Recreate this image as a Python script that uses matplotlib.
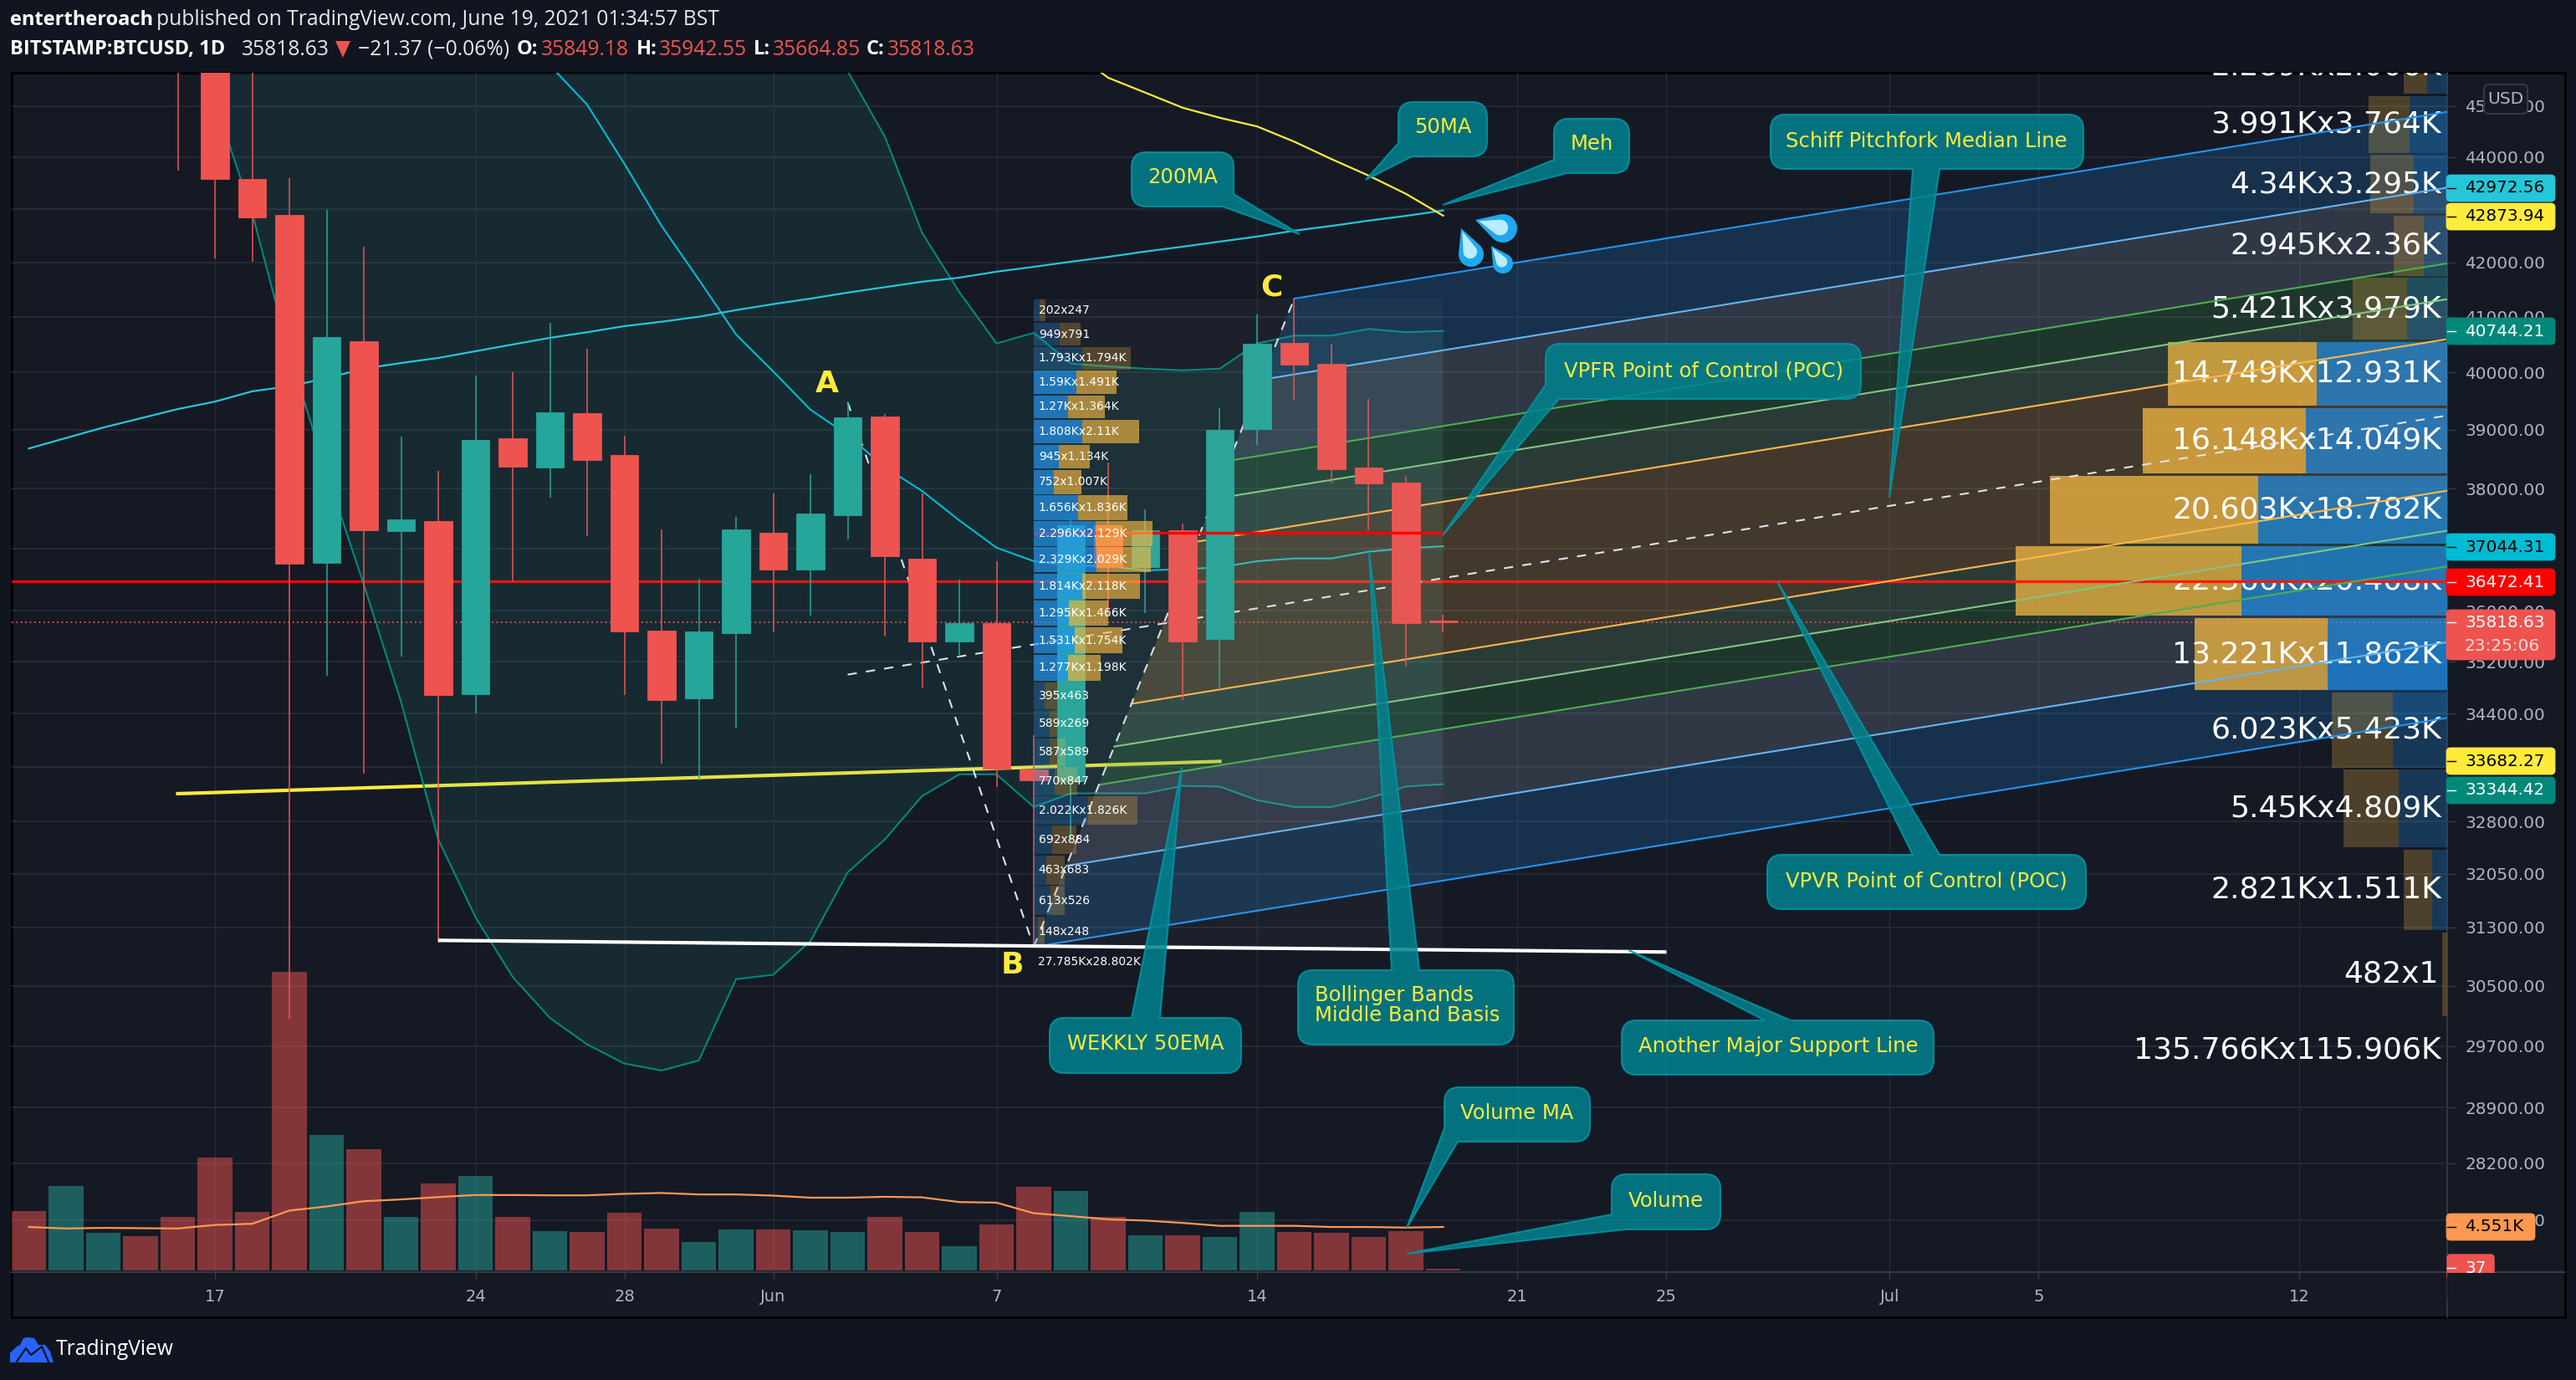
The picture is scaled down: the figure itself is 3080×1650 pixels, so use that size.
import numpy as np
import matplotlib
matplotlib.use("Agg")
import matplotlib.pyplot as plt
from matplotlib.patches import Rectangle, PathPatch, FancyBboxPatch, Polygon
from matplotlib.path import Path
from matplotlib.ticker import FixedLocator, FixedFormatter, NullLocator

# -------------------------------------------------------
# DATA (day numbers count from May 17 2021 = 0)
# -------------------------------------------------------
candle_days = list(range(-1, 34))
opens = [49200, 46400, 43575, 42887, 36775, 40558, 37290, 37460, 34700, 38850, 38350, 39290,
         38565, 35690, 34630, 35650, 37265, 36670, 37560, 39230, 36845, 35510, 35800, 33560,
         33390, 37395, 36700, 37310, 35550, 39020, 40525, 40160, 38350, 38100, 35849.18]
highs = [49800, 46650, 45800, 43588, 42983, 42290, 38880, 38295, 39947, 40007, 40890, 40425,
         38900, 37320, 36510, 37530, 37920, 38240, 39480, 39270, 37920, 36500, 36800, 34070,
         37500, 38440, 37660, 37420, 39380, 41040, 41330, 40500, 39540, 38200, 35942.55]
lows = [43736, 42075, 42010, 30056, 34985, 33495, 35280, 31085, 34400, 36480, 37850, 37210,
        34680, 33650, 33400, 34170, 35670, 35920, 37150, 35590, 34800, 35280, 33300, 31030,
        32520, 35930, 35970, 34610, 34770, 38740, 39510, 38090, 37310, 35130, 35664.85]
closes = [46400, 43575, 42840, 36757, 40630, 37307, 37488, 34680, 38825, 38370, 39300, 38480,
          35670, 34610, 35670, 37320, 36670, 37580, 39215, 36875, 35510, 35800, 33570, 33400,
          37395, 36700, 37310, 35510, 39000, 40510, 40140, 38330, 38090, 35810, 35818.63]

vol_days = list(range(-5, 34))
volumes = [6232, 8842, 3960, 3592, 5618, 11820, 6140, 31250, 14183, 12710, 5618, 9118, 9916,
           5618, 4114, 4052, 6048, 4390, 2978, 4298, 4298, 4206, 4052, 5618, 4052, 2548, 4820,
           8780, 8320, 5618, 3684, 3684, 3530, 6140, 4052, 3960, 3530, 4114, 37]
vol_up = [0, 1, 1, 0, 0, 0, 0, 0, 1, 0, 1, 0, 1, 0, 1, 0, 0, 0, 1, 1, 0, 1, 1, 0, 0, 1, 0,
          0, 1, 0, 1, 0, 1, 1, 0, 0, 0, 0, 0]
vol_ma = [4544, 4390, 4452, 4421, 4390, 4758, 4881, 6263, 6693, 7245, 7429, 7675, 7890, 7890,
          7859, 7859, 8013, 8105, 7951, 7951, 7829, 7614, 7614, 7706, 7644, 7153, 7092, 5986,
          5680, 5342, 5219, 4973, 4666, 4666, 4666, 4544, 4544, 4482, 4551]

bb_days = list(range(-1, 34))
bb_upper = [64000, 64900, 65680, 66470, 66740, 66580, 66220, 66260, 65020, 63540, 61570, 60340,
            58270, 55980, 53850, 50770, 49390, 47590, 45700, 44400, 42550, 41450, 40520, 40710,
            40160, 40110, 40070, 40040, 40070, 40520, 40660, 40660, 40780, 40720, 40744.21]
bb_basis = [55900, 55000, 54300, 53400, 52500, 51500, 50400, 49400, 48230, 47080, 45820, 45030,
            43870, 42680, 41680, 40680, 40020, 39350, 38910, 38360, 37960, 37470, 37020, 36800,
            36730, 36720, 36650, 36670, 36700, 36800, 36845, 36845, 36955, 37010, 37044.31]
bb_lower = [47870, 45100, 42920, 40330, 38260, 36420, 34580, 32540, 31440, 30620, 30070, 29720,
            29470, 29380, 29510, 30590, 30650, 31110, 32070, 32540, 33170, 33490, 33490, 33010,
            33210, 33210, 33210, 33320, 33310, 33110, 33010, 33010, 33140, 33310, 33344.42]

ma200_days = list(range(-5, 34))
ma200 = [38680, 38860, 39040, 39200, 39360, 39490, 39670, 39760, 39900, 40070, 40170, 40260,
         40380, 40500, 40620, 40720, 40830, 40910, 41000, 41120, 41230, 41330, 41440, 41540,
         41640, 41715, 41825, 41915, 42010, 42100, 42200, 42290, 42385, 42480, 42590, 42680,
         42780, 42870, 42972.56]
ma50_days = list(range(23, 34))
ma50 = [46130, 45570, 45270, 44970, 44770, 44600, 44300, 43960, 43640, 43290, 42873.94]

weekly_days = [-1, 27]
weekly_ema = [33205, 33682.27]
support_days = [6, 39]
support = [31120, 30960]
poc_vpvr = 36472.41
poc_vpfr = 37270
last_price = 35818.63

# pitchfork anchors
fork_a = (17, 39480)
fork_b = (22, 31030)
fork_c = (29, 41330)
median_start = (17, 35000)
median_end = (60, 39250)
band_levels = [0, 0.125, 0.25, 0.309, 0.375, 0.5, 0.625, 0.691, 0.75, 0.875, 1]

# fixed range profile, top row first
vpfr_labels = ["202x247", "949x791", "1.793Kx1.794K", "1.59Kx1.491K", "1.27Kx1.364K", "1.808Kx2.11K",
               "945x1.134K", "752x1.007K", "1.656Kx1.836K", "2.296Kx2.129K", "2.329Kx2.029K",
               "1.814Kx2.118K", "1.295Kx1.466K", "1.531Kx1.754K", "1.277Kx1.198K", "395x463",
               "589x269", "587x589", "770x847", "2.022Kx1.826K", "692x884", "463x683", "613x526",
               "148x248"]
vpfr_up = [0.202, 0.949, 1.793, 1.59, 1.27, 1.808, 0.945, 0.752, 1.656, 2.296, 2.329, 1.814,
           1.295, 1.531, 1.277, 0.395, 0.589, 0.587, 0.77, 2.022, 0.692, 0.463, 0.613, 0.148]
vpfr_down = [0.247, 0.791, 1.794, 1.491, 1.364, 2.11, 1.134, 1.007, 1.836, 2.129, 2.029, 2.118,
             1.466, 1.754, 1.198, 0.463, 0.269, 0.589, 0.847, 1.826, 0.884, 0.683, 0.526, 0.248]
vpfr_bright = [0, 0, 0, 1, 1, 1, 1, 1, 1, 1, 1, 1, 1, 1, 1, 0, 0, 0, 0, 0, 0, 0, 0, 0]
vpfr_total = "27.785Kx28.802K"

# visible range profile, top row first
vpvr_edges = [46390, 45225, 44060, 42895, 41730, 40565, 39400, 38235, 37070, 35905, 34740,
              33575, 32410, 31245, 30080]
vpvr_labels = ["2.289Kx2.006K", "3.991Kx3.764K", "4.34Kx3.295K", "2.945Kx2.36K", "5.421Kx3.979K",
               "14.749Kx12.931K", "16.148Kx14.049K", "20.603Kx18.782K", "22.366Kx20.408K",
               "13.221Kx11.862K", "6.023Kx5.423K", "5.45Kx4.809K", "2.821Kx1.511K", "482x1"]
vpvr_first = [2.289, 3.991, 4.34, 2.945, 5.421, 14.749, 16.148, 20.603, 22.366, 13.221, 6.023,
              5.45, 2.821, 0.482]
vpvr_second = [2.006, 3.764, 3.295, 2.36, 3.979, 12.931, 14.049, 18.782, 20.408, 11.862, 5.423,
               4.809, 1.511, 0.001]
vpvr_bright = [0, 0, 0, 0, 0, 1, 1, 1, 1, 1, 0, 0, 0, 0]
vpvr_total = "135.766Kx115.906K"

price_ticks = [46000, 45000, 44000, 43000, 42000, 41000, 40000, 39000, 38000, 37000, 36000, 35200,
               34400, 33600, 32800, 32050, 31300, 30500, 29700, 28900, 28200, 27500]
time_ticks = [0, 7, 11, 15, 21, 28, 35, 39, 45, 49, 56]
time_labels = ["17", "24", "28", "Jun", "7", "14", "21", "25", "Jul", "5", "12"]

# -------------------------------------------------------
# COLOURS
# -------------------------------------------------------
BG = "#11151f"
PANE = "#151924"
GRID = "#272b36"
AXIS_TXT = "#b2b5be"
UP = "#26a69a"
DOWN = "#ef5350"
YELLOW = "#ffeb3b"
BOX_FACE = "#00838f"
BOX_EDGE = "#0097a7"

plt.rcParams["font.family"] = ["DejaVu Sans"]

fig = plt.figure(figsize=(30.8, 16.5), dpi=100, facecolor=BG)

W, H = 3080.0, 1650.0
PANE_L, PANE_R, PANE_T, PANE_B = 14, 2926, 87, 1521
rect = [PANE_L / W, 1 - PANE_B / H, (PANE_R - PANE_L) / W, (PANE_B - PANE_T) / H]
XLIM = (-5.461, 59.978)
YLIM = (26874, 45670.5)


def px_axes(zorder):
    a = fig.add_axes([0, 0, 1, 1], zorder=zorder)
    a.set_xlim(0, W)
    a.set_ylim(H, 0)
    a.axis("off")
    return a


# background pane and separators
ax_bg = px_axes(0)
ax_bg.add_patch(Rectangle((PANE_L, PANE_T), 3067 - PANE_L, 1575 - PANE_T, fc=PANE, ec="#000000", lw=2))
ax_bg.plot([PANE_R, PANE_R], [PANE_T, 1575], color="#363a45", lw=1.2)
ax_bg.plot([PANE_L, 3066], [PANE_B, PANE_B], color="#363a45", lw=1.6)

# ticks and grid
ax_grid = fig.add_axes(rect, zorder=1)
ax_grid.patch.set_alpha(0)
ax_grid.set_yscale("log")
ax_grid.set_xlim(*XLIM)
ax_grid.set_ylim(*YLIM)
ax_grid.yaxis.tick_right()
ax_grid.yaxis.set_major_locator(FixedLocator(price_ticks))
ax_grid.yaxis.set_major_formatter(FixedFormatter([f"{v:.2f}" for v in price_ticks]))
ax_grid.yaxis.set_minor_locator(NullLocator())
ax_grid.set_xticks(time_ticks)
ax_grid.set_xticklabels(time_labels)
ax_grid.tick_params(axis="y", colors="#363a45", labelcolor=AXIS_TXT, labelsize=14.4, length=7.5, pad=8, width=1)
ax_grid.tick_params(axis="x", colors="#363a45", labelcolor=AXIS_TXT, labelsize=14, length=6.5, pad=8, width=1)
ax_grid.grid(axis="y", color=GRID, lw=1.3)
ax_grid.grid(axis="x", color=GRID, lw=1.0)
for s in ax_grid.spines.values():
    s.set_visible(False)

# volume layer
ax_vol = fig.add_axes(rect, zorder=2)
ax_vol.axis("off")
ax_vol.set_xlim(*XLIM)
ax_vol.set_ylim(-175, 125300)
vol_col = [UP if u else DOWN for u in vol_up]
ax_vol.bar(vol_days, np.maximum(volumes, 170), width=0.94, color=vol_col, alpha=0.5)
ax_vol.plot(vol_days, vol_ma, color="#ff9850", lw=1.6)

# price layer
ax = fig.add_axes(rect, zorder=3)
ax.axis("off")
ax.set_yscale("log")
ax.set_xlim(*XLIM)
ax.set_ylim(*YLIM)

# -------------------------------------------------------
# POC, MOVING AVERAGES, BOLLINGER BANDS
# -------------------------------------------------------
ax.plot([XLIM[0], 33], [poc_vpvr, poc_vpvr], color="#ff0000", lw=2.4, zorder=1)
ax.plot([33, XLIM[1]], [poc_vpvr, poc_vpvr], color="#ff1a10", lw=2.4, zorder=1.94)
ax.plot(weekly_days, weekly_ema, color=YELLOW, lw=3.0, zorder=1.2)

ax.fill_between(bb_days, bb_lower, bb_upper, color=UP, alpha=0.12, lw=0, zorder=1.5)
ax.plot(bb_days, bb_upper, color="#00897b", lw=1.5, zorder=1.6)
ax.plot(bb_days, bb_lower, color="#00897b", lw=1.5, zorder=1.6)
ax.plot(bb_days, bb_basis, color="#00bcd4", lw=1.5, zorder=1.6)
ax.plot(ma200_days, ma200, color="#26c6da", lw=1.6, zorder=1.8)
ax.plot(ma50_days, ma50, color=YELLOW, lw=1.6, zorder=1.8)

# -------------------------------------------------------
# CANDLES
# -------------------------------------------------------
cols = [UP if c >= o else DOWN for o, c in zip(opens, closes)]
ax.vlines(candle_days, lows, highs, colors=cols, lw=1.1, zorder=2)
body_low = np.minimum(opens, closes)
body_high = np.maximum(opens, closes)
ax.bar(candle_days, body_high - body_low, bottom=body_low, width=0.76, color=cols,
       edgecolor=cols, lw=0.6, zorder=2.1)

# -------------------------------------------------------
# VOLUME PROFILES
# -------------------------------------------------------
VP_BLUE = "#2196f3"
VP_YELLOW = "#f5b942"
vpfr_edges = np.linspace(fork_c[1], fork_b[1], len(vpfr_labels) + 1)
ax.add_patch(Rectangle((fork_b[0], fork_b[1]), fork_c[0] + 4 - fork_b[0], fork_c[1] - fork_b[1],
                       fc="#9598a1", alpha=0.06, lw=0, zorder=2.5))
day_per_k_left = 0.7236
for i, lab in enumerate(vpfr_labels):
    top, bot = vpfr_edges[i] * 0.9997, vpfr_edges[i + 1] * 1.0003
    wu, wd = vpfr_up[i] * day_per_k_left, vpfr_down[i] * day_per_k_left
    ax.barh(bot, wu, height=top - bot, left=fork_b[0], align="edge", color=VP_BLUE,
            alpha=0.68 if vpfr_bright[i] else 0.25, lw=0, zorder=3)
    ax.barh(bot, wd, height=top - bot, left=fork_b[0] + wu, align="edge", color=VP_YELLOW,
            alpha=0.65 if vpfr_bright[i] else 0.25, lw=0, zorder=3)
    ax.text(fork_b[0] + 0.13, np.sqrt(top * bot), lab, color="white", fontsize=10, va="center", ha="left", zorder=3.6)

day_per_k_right = 0.271
vp_texts = []
for i, lab in enumerate(vpvr_labels):
    top, bot = vpvr_edges[i] * 0.9995, vpvr_edges[i + 1] * 1.0005
    wy, wb = vpvr_first[i] * day_per_k_right, vpvr_second[i] * day_per_k_right
    ax.barh(bot, wb, height=top - bot, left=XLIM[1] - wb, align="edge", color=VP_BLUE,
            alpha=0.65 if vpvr_bright[i] else 0.25, lw=0, zorder=1.92)
    ax.barh(bot, wy, height=top - bot, left=XLIM[1] - wb - wy, align="edge", color=VP_YELLOW,
            alpha=0.75 if vpvr_bright[i] else 0.25, lw=0, zorder=1.92)
    right = XLIM[1] - (0.22 if lab == "482x1" else 0.157)
    t = ax.text(right, np.sqrt(top * bot), lab, color="white", fontsize=26, va="center", ha="right",
                zorder=1.93, clip_on=True)
    vp_texts.append(t)

# -------------------------------------------------------
# SCHIFF PITCHFORK
# -------------------------------------------------------
slope = (np.log(median_end[1]) - np.log(median_start[1])) / (median_end[0] - median_start[0])
lnb, lnc = np.log(fork_b[1]), np.log(fork_c[1])


def fork_line(level):
    x0 = fork_b[0] + level * (fork_c[0] - fork_b[0])
    y0 = lnb + level * (lnc - lnb)
    x1 = XLIM[1]
    return x0, np.exp(y0), x1, np.exp(y0 + slope * (x1 - x0))


band_cols = ["#2196f3", "#9db2ce", "#4caf50", "#81c784", "#ffb74d", "#ffb74d", "#81c784", "#4caf50", "#9db2ce", "#2196f3"]
line_levels = [0, 0.125, 0.25, 0.309, 0.375, 0.625, 0.691, 0.75, 0.875, 1]
level_cols = ["#2196f3", "#64b5f6", "#4caf50", "#81c784", "#ffb74d", "#ffb74d", "#81c784", "#4caf50", "#64b5f6", "#2196f3"]
for lo, hi, c in zip(band_levels[:-1], band_levels[1:], band_cols):
    a0, a1, a2, a3 = fork_line(lo)
    b0, b1, b2, b3 = fork_line(hi)
    ax.add_patch(Polygon([(a0, a1), (a2, a3), (b2, b3), (b0, b1)], closed=True, fc=c, alpha=0.2, lw=0, zorder=1.9))
for lev, c in zip(line_levels, level_cols):
    x0, y0, x1, y1 = fork_line(lev)
    ax.plot([x0, x1], [y0, y1], color=c, lw=1.5, zorder=1.95)

dash = (0, (5.3, 5.3))
ax.plot([median_start[0], median_end[0]], [median_start[1], median_end[1]], color="#e0e3eb", lw=1.5, ls=dash, zorder=1.96)
ax.plot([fork_a[0], fork_b[0]], [fork_a[1], fork_b[1]], color="#e0e3eb", lw=1.5, ls=dash, zorder=1.96)
ax.plot([fork_b[0], fork_c[0]], [fork_b[1], fork_c[1]], color="#e0e3eb", lw=1.5, ls=dash, zorder=1.96)

# the POC line runs under the profile bars, then on top of everything
ax.plot([fork_b[0], 25.2], [poc_vpfr, poc_vpfr], color="#ff0000", lw=2.4, zorder=2.9, solid_capstyle="butt")
ax.plot([25.2, 33], [poc_vpfr, poc_vpfr], color="#ff0000", lw=2.4, zorder=5, solid_capstyle="butt")
ax.plot(support_days, support, color="white", lw=3.0, zorder=5, solid_capstyle="butt")
ax.plot(XLIM, [last_price, last_price], color=DOWN, lw=1.3, ls=(0, (1, 2)), zorder=1.91)

# -------------------------------------------------------
# OVERLAY: CALLOUTS, LABELS, HEADER
# -------------------------------------------------------
ov = px_axes(10)

clip_top = Rectangle((0, PANE_T), W, PANE_B - PANE_T, transform=ov.transData)
vp_texts[0].set_clip_path(clip_top)
clip_poc = Rectangle((2300, 697), 700, 100, transform=ov.transData)
vp_texts[8].set_clip_path(clip_poc)


def rounded_path(points, r=18):
    verts, codes = [], []
    n = len(points)
    for i, (x, y, rnd) in enumerate(points):
        p = np.array([x, y], float)
        if not rnd:
            verts.append(p)
            codes.append(Path.MOVETO if i == 0 else Path.LINETO)
            continue
        prev = np.array(points[i - 1][:2], float)
        nxt = np.array(points[(i + 1) % n][:2], float)
        a = p + (prev - p) / np.linalg.norm(prev - p) * r
        b = p + (nxt - p) / np.linalg.norm(nxt - p) * r
        verts += [a, p, b]
        codes += [Path.MOVETO if i == 0 else Path.LINETO, Path.CURVE3, Path.CURVE3]
    verts.append(verts[0])
    codes.append(Path.CLOSEPOLY)
    return Path(verts, codes)


def callout(x0, x1, y0, y1, side, a, b, tip):
    TL, TR, BR, BL = (x0, y0, 1), (x1, y0, 1), (x1, y1, 1), (x0, y1, 1)
    pa, pb, pt = (*a, 0), (*b, 0), (*tip, 0)
    if side == "top":
        pts = [TL, pa, pt, pb, TR, BR, BL]
    elif side == "bottom":
        pts = [TL, TR, BR, pb, pt, pa, BL]
    elif side == "bl":
        pts = [TL, TR, BR, pa, pt, pb]
    else:
        pts = [TL, TR, pa, pt, pb, BL]
    ov.add_patch(PathPatch(rounded_path(pts), fc=BOX_FACE, ec=BOX_EDGE, lw=1.5, alpha=0.85))


def box_text(x, y, s, **kw):
    ov.text(x, y, s, color=YELLOW, fontsize=17.5, va="center", **kw)


callout(1353, 1475, 182, 247, "br", (1475, 232), (1462, 247), (1554, 280))
box_text(1414, 212, "200MA", ha="center")
callout(1672, 1778, 122, 187, "bl", (1688, 187), (1672, 171), (1633, 215))
box_text(1725, 152, "50MA", ha="center")
callout(1858, 1948, 142, 207, "bl", (1874, 207), (1858, 191), (1725, 245))
box_text(1903, 172, "Meh", ha="center")
callout(2117, 2491, 137, 202, "bottom", (2287, 202), (2319, 202), (2259, 595))
box_text(2303, 169, "Schiff Pitchfork Median Line", ha="center")
callout(1848, 2225, 411, 477, "bl", (1864, 477), (1848, 460), (1725, 640))
box_text(2037, 444, "VPFR Point of Control (POC)", ha="center")
callout(2113, 2494, 1022, 1087, "top", (2287, 1022), (2319, 1022), (2125, 695))
box_text(2303, 1053, "VPVR Point of Control (POC)", ha="center")
callout(1255, 1484, 1217, 1283, "top", (1353, 1217), (1387, 1217), (1413, 918))
box_text(1370, 1248, "WEKKLY 50EMA", ha="center")
callout(1552, 1810, 1160, 1249, "top", (1664, 1160), (1697, 1160), (1637, 660))
box_text(1572, 1190, "Bollinger Bands", ha="left")
box_text(1572, 1214, "Middle Band Basis", ha="left")
callout(1939, 2312, 1220, 1285, "top", (2110, 1220), (2141, 1220), (1947, 1136))
box_text(2126, 1251, "Another Major Support Line", ha="center")
callout(1727, 1901, 1300, 1365, "bl", (1743, 1365), (1727, 1349), (1682, 1468))
box_text(1814, 1331, "Volume MA", ha="center")
callout(1927, 2057, 1404, 1470, "bl", (1943, 1470), (1927, 1452), (1682, 1499))
box_text(1992, 1436, "Volume", ha="center")

# A B C
for s, x, y in [("A", 989, 459), ("B", 1210, 1154), ("C", 1520, 343)]:
    ov.text(x, y, s, color=YELLOW, fontsize=26, fontweight="bold", ha="center", va="center")

# profile totals
ov.text(1241, 1150, vpfr_total, color="white", fontsize=10, va="center", ha="left")
ov.text(2919, 1255, vpvr_total, color="white", fontsize=26, va="center", ha="right")


# sweat drops
def drop(tip, centre, r):
    tip, centre = np.array(tip, float), np.array(centre, float)
    d = centre - tip
    ang = np.arctan2(d[1], d[0])
    half = np.pi - np.arccos(r / np.linalg.norm(d))
    t = np.linspace(ang - half, ang + half, 40)
    arc = np.c_[centre[0] + r * np.cos(t), centre[1] + r * np.sin(t)]
    return np.vstack([tip, arc])


for tip, c, r in [((1764, 263), (1797, 273), 17), ((1747, 273), (1759, 304), 15), ((1783, 294), (1797, 315), 12)]:
    ov.add_patch(Polygon(drop(tip, c, r), closed=True, fc="#1fa8ee", lw=0))
    tip2 = np.array(tip) + (np.array(c) - np.array(tip)) * 0.12
    c2 = np.array(c) - (np.array(c) - np.array(tip)) * 0.1
    ov.add_patch(Polygon(drop(tip2, c2, r * 0.55), closed=True, fc="#b9ecff", lw=0))


# price labels on the axis
def price_tag(y, txt, fc, tc, right=3056, h=34):
    ov.add_patch(FancyBboxPatch((2926, y - h / 2 + 2), right - 2926 - 2, h - 4, boxstyle="round,pad=0,rounding_size=4",
                                fc=fc, ec=fc, lw=2))
    ov.plot([2926, 2936], [y, y], color=tc, lw=1)
    ov.text(2947, y, txt, color=tc, fontsize=14.4, va="center", ha="left")


price_tag(225, "42972.56", "#26c6da", "black")
price_tag(259, "42873.94", YELLOW, "black")
price_tag(396, "40744.21", "#00897b", "white")
price_tag(654, "37044.31", "#00bcd4", "black")
price_tag(696, "36472.41", "#ff0000", "white")
price_tag(910, "33682.27", YELLOW, "black")
price_tag(945, "33344.42", "#00897b", "white")
price_tag(1467, "4.551K", "#ff9850", "black", right=3032)

ov.add_patch(FancyBboxPatch((2926, 730), 128, 58, boxstyle="round,pad=0,rounding_size=4", fc=DOWN, ec=DOWN, lw=2))
ov.plot([2926, 2936], [744, 744], color="white", lw=1)
ov.text(2947, 744, "35818.63", color="white", fontsize=14.4, va="center")
ov.text(2947, 772, "23:25:06", color="white", alpha=0.8, fontsize=14.4, va="center")

ov.add_patch(FancyBboxPatch((2926, 1500), 56, 30, boxstyle="round,pad=0,rounding_size=4", fc=DOWN, ec=DOWN, lw=1))
ov.plot([2926, 2936], [1516, 1516], color="white", lw=1)
t37 = ov.text(2947, 1517, "37", color="white", fontsize=14.4, va="center")
t37.set_clip_path(Rectangle((2926, 1400), 200, PANE_B - 1400, transform=ov.transData))
ov.add_patch(Rectangle((2926, PANE_B + 1), 140, 30, fc=PANE, lw=0))

# USD button
ov.add_patch(FancyBboxPatch((2970, 101), 52, 35, boxstyle="round,pad=0,rounding_size=6", fc=PANE, ec="#363a45", lw=1.5))
ov.text(2996, 118.5, "USD", color=AXIS_TXT, fontsize=14.5, ha="center", va="center")

# header
HEAD = "Open Sans"
hs = 17.7
hb = 17
ov.text(12, 24, "entertheroach", color="white", fontsize=hb, fontweight="bold", family=HEAD, va="center")
ov.text(187, 24, "published on TradingView.com, June 19, 2021 01:34:57 BST", color="#e6e8ee", fontsize=hs, family=HEAD, va="center")
ov.text(12, 59, "BITSTAMP:BTCUSD, 1D", color="white", fontsize=hb, fontweight="bold", family=HEAD, va="center")
ov.text(289, 59, "35818.63", color="#e6e8ee", fontsize=hs, family=HEAD, va="center")
ov.add_patch(Polygon([(401, 49), (419, 49), (410, 69)], closed=True, fc=DOWN, lw=0))
ov.text(428, 59, "\u221221.37 (\u22120.06%)", color="#e6e8ee", fontsize=hs, family=HEAD, va="center")
for lab, lx, val, vx in [("O:", 618, "35849.18", 647), ("H:", 761, "35942.55", 788),
                         ("L:", 901, "35664.85", 924), ("C:", 1036, "35818.63", 1061)]:
    ov.text(lx, 59, lab, color="white", fontsize=hb, fontweight="bold", family=HEAD, va="center")
    ov.text(vx, 59, val, color=DOWN, fontsize=hs, family=HEAD, va="center")

# logo
logo = Path([(12, 1629), (12, 1618), (20, 1610), (24, 1608), (28, 1600), (34, 1599), (41, 1600), (46, 1608),
             (54, 1608), (60, 1616), (64, 1629), (12, 1629)])
ov.add_patch(PathPatch(logo, fc="#2962ff", lw=0))
ov.plot([20, 31, 37, 50, 58], [1628, 1612, 1620, 1610, 1628], color=BG, lw=1.6)
ov.text(67, 1614, "TradingView", color="white", fontsize=17.7, family=HEAD, va="center")

fig.savefig("out.png", dpi=100, facecolor=BG)
plt.close(fig)
